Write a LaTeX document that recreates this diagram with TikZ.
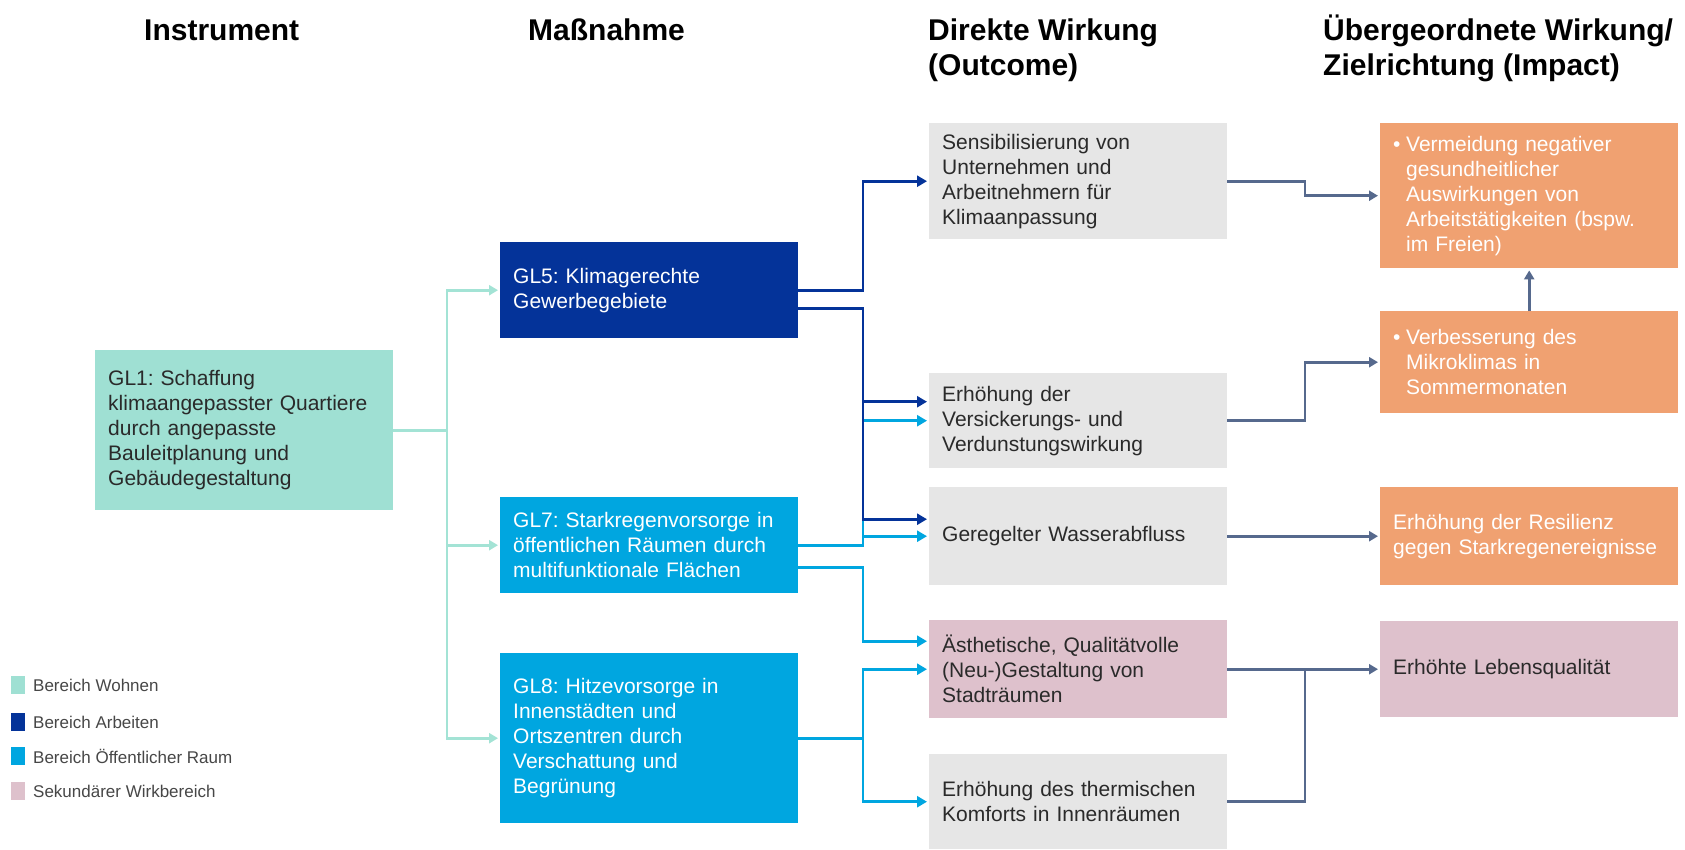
\documentclass[tikz,border=0pt]{standalone}
\usepackage{fontspec}
\setmainfont{Liberation Sans}
\usetikzlibrary{arrows.meta}
\frenchspacing
\definecolor{cTeal}{HTML}{9FE0D3}
\definecolor{cTealLine}{HTML}{A3E3D5}
\definecolor{cDark}{HTML}{043399}
\definecolor{cLight}{HTML}{00A6E0}
\definecolor{cGray}{HTML}{E6E6E6}
\definecolor{cPink}{HTML}{DEC1CC}
\definecolor{cOrange}{HTML}{F0A171}
\definecolor{cSlate}{HTML}{56698D}
\definecolor{cText}{HTML}{2A2A2A}
\definecolor{cLeg}{HTML}{474747}
\begin{document}
\begin{tikzpicture}[x=1pt,y=-1pt,
  box/.style={anchor=north west, inner xsep=13pt, inner ysep=0pt, text width=272pt,
    align=left, font=\fontsize{21}{25}\selectfont, draw=none},
  hdr/.style={anchor=base west, inner sep=0pt, align=left, font=\fontsize{30}{35}\selectfont\bfseries, text=black},
  tip/.style={-{Triangle[length=10pt,width=11pt]}, shorten >=2pt},
  stip/.style={-{Triangle[length=9pt,width=10pt]}, shorten >=2pt},
  wline/.style={draw=cTealLine, line width=2.7pt},
  dline/.style={draw=cDark, line width=2.8pt},
  lline/.style={draw=cLight, line width=2.8pt},
  sline/.style={draw=cSlate, line width=2.6pt},
  legsq/.style={minimum width=14pt, minimum height=18pt, inner sep=0pt},
  legtxt/.style={anchor=west, inner sep=0pt, font=\fontsize{17}{20}\selectfont, text=cLeg}
]
\useasboundingbox (0,0) rectangle (1685,849);
\fill[white] (0,0) rectangle (1685,849);

% headers
\node[hdr] (h1) at (144,40) {Instrument};
\node[hdr] (h2) at (528,40) {Maßnahme};
\node[hdr] (h3) at (928,75) {Direkte Wirkung\\(Outcome)};
\node[hdr] (h4) at (1323,75) {Übergeordnete Wirkung/\\Zielrichtung (Impact)};

% boxes
\node[box, fill=cTeal, text=cText, minimum height=160pt] (gl1) at (95,350)
  {GL1: Schaffung\\klimaangepasster Quartiere\\durch angepasste\\Bauleitplanung und\\Gebäudegestaltung};
\node[box, fill=cDark, text=white, minimum height=96pt] (gl5) at (500,242)
  {GL5: Klimagerechte\\Gewerbegebiete};
\node[box, fill=cLight, text=white, minimum height=96pt] (gl7) at (500,497)
  {GL7: Starkregenvorsorge in\\öffentlichen Räumen durch\\multifunktionale Flächen};
\node[box, fill=cLight, text=white, minimum height=170pt] (gl8) at (500,653)
  {GL8: Hitzevorsorge in\\Innenstädten und\\Ortszentren durch\\Verschattung und\\Begrünung};

\node[box, fill=cGray, text=cText, minimum height=116pt] (sens) at (929,123)
  {Sensibilisierung von\\Unternehmen und\\Arbeitnehmern für\\Klimaanpassung};
\node[box, fill=cGray, text=cText, minimum height=95pt] (erh) at (929,373)
  {Erhöhung der\\Versickerungs- und\\Verdunstungswirkung};
\node[box, fill=cGray, text=cText, minimum height=98pt] (ger) at (929,487)
  {Geregelter Wasserabfluss};
\node[box, fill=cPink, text=cText, minimum height=98pt] (aes) at (929,620)
  {Ästhetische, Qualitätvolle\\(Neu-)Gestaltung von\\Stadträumen};
\node[box, fill=cGray, text=cText, minimum height=95pt] (the) at (929,754)
  {Erhöhung des thermischen\\Komforts in Innenräumen};

\node[box, fill=cOrange, text=white, minimum height=145pt] (or1) at (1380,123)
  {\makebox[13pt][l]{•}Vermeidung negativer\\\hspace*{13pt}gesundheitlicher\\\hspace*{13pt}Auswirkungen von\\\hspace*{13pt}Arbeitstätigkeiten (bspw.\\\hspace*{13pt}im Freien)};
\node[box, fill=cOrange, text=white, minimum height=102pt] (or2) at (1380,311)
  {\makebox[13pt][l]{•}Verbesserung des\\\hspace*{13pt}Mikroklimas in\\\hspace*{13pt}Sommermonaten};
\node[box, fill=cOrange, text=white, minimum height=98pt] (res) at (1380,487)
  {Erhöhung der Resilienz\\gegen Starkregenereignisse};
\node[box, fill=cPink, text=cText, minimum height=96pt] (leb) at (1380,621)
  {Erhöhte Lebensqualität};

% helper coordinates
\coordinate (tw) at (447,0);
\coordinate (bx) at (863,0);
\coordinate (sx) at (1305,0);

% teal connectors
\draw[wline, stip] (gl1.east) -- (gl1.east -| tw) |- (gl5.west);
\draw[wline, stip] (gl1.east -| tw) |- (gl7.west);
\draw[wline, stip] (gl1.east -| tw) |- (gl8.west);

% light blue connectors
\draw[lline, tip] (gl7.east) -- (gl7.east -| bx) |- (erh.west);
\draw[lline, tip] (gl7.east -| bx) |- (ger.west);
\draw[lline, tip] ([yshift=-22pt]gl7.east) -- ([yshift=-22pt]gl7.east -| bx) |- ([yshift=28pt]aes.west);
\draw[lline, tip] (gl8.east) -- (gl8.east -| bx) |- (aes.west);
\draw[lline, tip] (gl8.east -| bx) |- (the.west);

% dark blue connectors
\draw[dline, tip] (gl5.east) -- (gl5.east -| bx) |- (sens.west);
\draw[dline, tip] ([yshift=-18pt]gl5.east) -- ([yshift=-18pt]gl5.east -| bx) |- ([yshift=17pt]ger.west);
\draw[dline, tip] ([yshift=19pt]erh.west -| bx) -- ([yshift=19pt]erh.west);

% slate connectors
\draw[sline, stip] (sens.east) -- (sens.east -| sx) |- (or1.west);
\draw[sline, stip] (erh.east) -- (erh.east -| sx) |- (or2.west);
\draw[sline, stip] (ger.east) -- (res.west);
\draw[sline, stip] (aes.east) -- (leb.west);
\draw[sline] (the.east) -- (the.east -| sx) -- (sx |- leb.west);
\draw[sline, stip] (or2.north) -- (or1.south);

% legend
\node[legsq, fill=cTeal] (lq1) at (18,685) {};
\node[legtxt] (lt1) at (33,685) {Bereich Wohnen};
\node[legsq, fill=cDark] (lq2) at (18,722) {};
\node[legtxt] (lt2) at (33,722) {Bereich Arbeiten};
\node[legsq, fill=cLight] (lq3) at (18,756) {};
\node[legtxt] (lt3) at (33,756) {Bereich Öffentlicher Raum};
\node[legsq, fill=cPink] (lq4) at (18,791) {};
\node[legtxt] (lt4) at (33,791) {Sekundärer Wirkbereich};
\end{tikzpicture}
\end{document}
